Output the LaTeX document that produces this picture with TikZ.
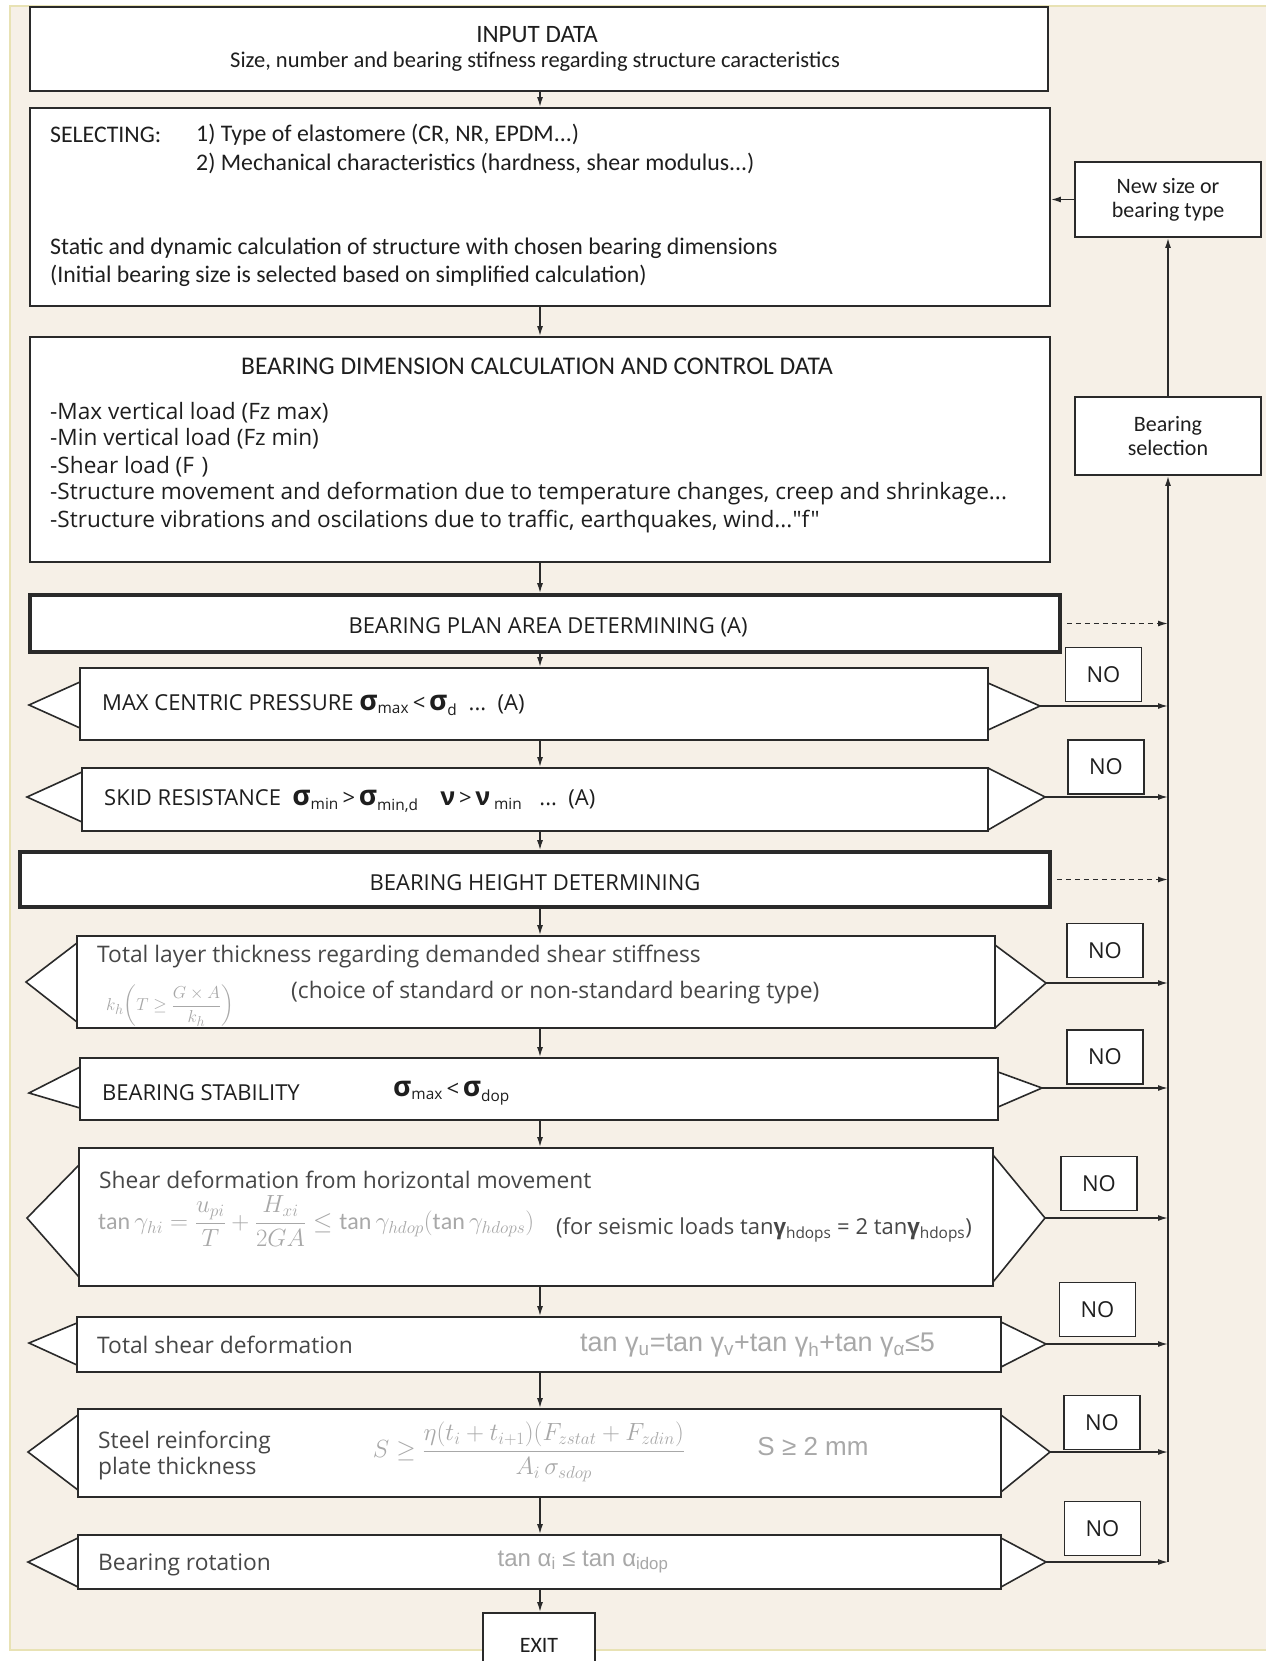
\documentclass[tikz,border=0pt]{standalone}
\usepackage{amsmath}
\usepackage{fontspec}
\setmainfont{Carlito}
\newfontfamily\arialf{Liberation Sans}
\newfontfamily\osans{Open Sans}
\usetikzlibrary{arrows.meta,calc}
\definecolor{bgc}{HTML}{F6F0E7}
\definecolor{framec}{HTML}{E8E2B4}
\definecolor{ink}{HTML}{1E1E1E}
\definecolor{softink}{HTML}{474747}
\definecolor{formc}{HTML}{A8A8A8}
\definecolor{linec}{HTML}{2A2A2A}
\newcommand\bigsig{{\fontsize{28}{28}\selectfont\bfseries σ}}
\newcommand\bignu{{\fontsize{25}{25}\selectfont\bfseries ν}}
\tikzset{
  box/.style={draw=linec, line width=1.8pt, fill=white, inner sep=0pt},
  thickbox/.style={box, line width=3.6pt},
  tri/.style={draw=linec, line width=1.6pt, line join=miter},
  nobox/.style={box, minimum width=76pt, minimum height=54pt, font=\osans\fontsize{22}{24}\selectfont, text=ink},
  sidebox/.style={box, minimum width=186pt, align=center, font=\fontsize{22}{24}\selectfont, text=ink},
  arr/.style={draw=linec, line width=1.5pt, -{Latex[length=10pt,width=6pt]}},
  darr/.style={arr, dash pattern=on 5pt off 4pt},
  txt/.style={inner sep=0pt, text=ink, font=\fontsize{23.8}{28}\selectfont},
  ltxt/.style={txt, anchor=west},
  otxt/.style={inner sep=0pt, text=ink, font=\osans\fontsize{22}{26}\selectfont},
  lotxt/.style={otxt, anchor=west},
  stxt/.style={lotxt, text=softink, font=\osans\fontsize{22.8}{26}\selectfont},
  ftxt/.style={inner sep=0pt, text=formc, font=\fontsize{24}{28}\selectfont},
  atxt/.style={inner sep=0pt, text=formc, anchor=west, font=\arialf\fontsize{24}{28}\selectfont},
}
\begin{document}
\begin{tikzpicture}[x=1pt,y=-1pt]
\useasboundingbox (0,0) rectangle (1266,1661);
% background
\fill[white] (0,0) rectangle (1266,1661);
\fill[bgc] (10,6) rectangle (1266,1650);
\draw[framec, line width=2pt] (1266,6) -- (10,6) -- (10,1650) -- (1266,1650);

% axis coordinates
\coordinate (axis) at (540,0);
\coordinate (vx) at (1168,0);

% triangle tips of the decision boxes
\coordinate (d1l) at (29,705);   \coordinate (d1r) at (1040,706);
\coordinate (d2l) at (27,797);   \coordinate (d2r) at (1045,797);
\coordinate (d3l) at (26,982);   \coordinate (d3r) at (1046,983);
\coordinate (d4l) at (29,1093);  \coordinate (d4r) at (1042,1088);
\coordinate (d5l) at (27,1218);  \coordinate (d5r) at (1045,1218);
\coordinate (d6l) at (29,1343);  \coordinate (d6r) at (1046,1344);
\coordinate (d7l) at (28,1452);  \coordinate (d7r) at (1050,1452);
\coordinate (d8l) at (28,1562);  \coordinate (d8r) at (1046,1562);

\foreach \xa/\ya/\yb/\tp in {80/682/728/d1l, 988/683/730/d1r,
   82/772/822/d2l, 988/768/830/d2r,
   77/943/1022/d3l, 995/945/1028/d3r,
   80/1067/1108/d4l, 998/1072/1107/d4r,
   79/1165/1277/d5l, 993/1155/1282/d5r,
   77/1323/1365/d6l, 1001/1322/1367/d6r,
   78/1415/1490/d7l, 1001/1415/1492/d7r,
   78/1538/1587/d8l, 1001/1538/1587/d8r}{
  \fill[white] (\xa,\ya) -- (\tp) -- (\xa,\yb) -- cycle;
  \draw[tri] (\xa,\ya) -- (\tp) -- (\xa,\yb);
}

% main boxes
\node[box, minimum width=1018pt, minimum height=84pt]  (b1) at (539,49) {};
\node[box, minimum width=1020pt, minimum height=198pt] (b2) at (540,207) {};
\node[box, minimum width=1020pt, minimum height=225pt] (b3) at (540,449.5) {};
\node[thickbox, minimum width=1030pt, minimum height=57pt] (b4) at (545,623.5) {};
\node[box, minimum width=908pt, minimum height=72pt]  (d1) at (534,704) {};
\node[box, minimum width=906pt, minimum height=63pt]  (d2) at (535,799.5) {};
\node[thickbox, minimum width=1030pt, minimum height=55pt] (b5) at (535,879.5) {};
\node[box, minimum width=918pt, minimum height=92pt]  (d3) at (536,982) {};
\node[box, minimum width=918pt, minimum height=62pt]  (d4) at (539,1089) {};
\node[box, minimum width=914pt, minimum height=138pt] (d5) at (536,1217) {};
\node[box, minimum width=924pt, minimum height=55pt]  (d6) at (539,1344.5) {};
\node[box, minimum width=923pt, minimum height=88pt]  (d7) at (539.5,1453) {};
\node[box, minimum width=923pt, minimum height=54pt]  (d8) at (539.5,1562) {};
\node[box, minimum width=112pt, minimum height=54pt]  (ex) at (539,1640) {};

% side boxes
\node[sidebox, minimum height=75pt] (news) at (1168,199.5) {New size or\\bearing type};
\node[sidebox, minimum height=78pt] (bsel) at (1168,436) {Bearing\\selection};

% NO boxes
\node[nobox] (no1) at (1103.5,674.5) {NO};
\node[nobox] (no2) at (1106,767) {NO};
\node[nobox] (no3) at (1105,950.5) {NO};
\node[nobox] (no4) at (1105,1057) {NO};
\node[nobox] (no5) at (1099,1183.5) {NO};
\node[nobox] (no6) at (1097.5,1309.5) {NO};
\node[nobox] (no7) at (1102,1422.5) {NO};
\node[nobox] (no8) at (1102.5,1528.5) {NO};

% texts
\node[txt, font=\fontsize{25}{28}\selectfont] (t1a) at (537,35) {INPUT DATA};
\node[txt, font=\fontsize{22.5}{26}\selectfont] (t1b) at (535,62) {Size, number and bearing stifness regarding structure caracteristics};

\node[ltxt] (t2a) at (50,135) {SELECTING:};
\node[ltxt] (t2b) at (196,135) {1) Type of elastomere (CR, NR, EPDM...)};
\node[ltxt] (t2c) at (196,163) {2) Mechanical characteristics (hardness, shear modulus...)};
\node[ltxt] (t2d) at (50,248) {Static and dynamic calculation of structure with chosen bearing dimensions};
\node[ltxt] (t2e) at (50,276) {(Initial bearing size is selected based on simplified calculation)};

\node[txt, font=\fontsize{25.5}{28}\selectfont] (t3) at (537,366) {BEARING DIMENSION CALCULATION AND CONTROL DATA};
\node[lotxt, font=\osans\fontsize{22.6}{26}\selectfont] (t3a) at (50,413) {-Max vertical load (Fz max)};
\node[lotxt, font=\osans\fontsize{22.6}{26}\selectfont] (t3b) at (50,439) {-Min vertical load (Fz min)};
\node[lotxt, font=\osans\fontsize{22.6}{26}\selectfont] (t3c) at (50,467) {-Shear load (F\,\,)};
\node[lotxt, font=\osans\fontsize{22.6}{26}\selectfont] (t3d) at (50,494) {-Structure movement and deformation due to temperature changes, creep and shrinkage...};
\node[lotxt, font=\osans\fontsize{22.6}{26}\selectfont] (t3e) at (50,522) {-Structure vibrations and oscilations due to traffic, earthquakes, wind..."f"};

\node[otxt] (t4) at (548,627) {BEARING PLAN AREA DETERMINING (A)};
\node[lotxt] (t5) at (102,705) {MAX CENTRIC PRESSURE \bigsig\textsubscript{max}\,<\,\bigsig\textsubscript{d}\ \ ...\ \ (A)};
\node[lotxt] (t6) at (104,801) {SKID RESISTANCE\ \ \bigsig\textsubscript{min}\,>\,\bigsig\textsubscript{min,d}\quad\bignu\,>\,\bignu\textsubscript{\ min}\ \ \ ...\ \ (A)};
\node[otxt] (t7) at (535,883) {BEARING HEIGHT DETERMINING};

\node[stxt] (t8a) at (97,957) {Total layer thickness regarding demanded shear stiffness};
\node[ftxt, anchor=west, font=\fontsize{19}{22}\selectfont] (t8f) at (106,1006) {$\displaystyle k_h\!\left(T\ge\frac{G\times A}{k_h}\right)$};
\node[stxt] (t8b) at (291,993) {(choice of standard or non-standard bearing type)};

\node[lotxt] (t9a) at (102,1093) {BEARING STABILITY};
\node[lotxt] (t9b) at (393,1093) {\bigsig\textsubscript{max}\,<\,\bigsig\textsubscript{dop}};

\node[stxt] (t10a) at (99,1180) {Shear deformation from horizontal movement};
\node[ftxt, anchor=west] (t10f) at (98,1221) {$\displaystyle \tan\gamma_{hi} = \frac{u_{pi}}{T} + \frac{H_{xi}}{2GA} \le \tan\gamma_{hdop}(\tan\gamma_{hdops})$};
\node[stxt, font=\osans\fontsize{22}{26}\selectfont] (t10b) at (556,1230) {(for seismic loads tan\textbf{γ}\textsubscript{hdops} = 2 tan\textbf{γ}\textsubscript{hdops})};

\node[stxt] (t11a) at (97,1345) {Total shear deformation};
\node[atxt, font=\arialf\fontsize{27}{30}\selectfont] (t11f) at (580,1345) {tan γ\textsubscript{u}=tan γ\textsubscript{v}+tan γ\textsubscript{h}+tan γ\textsubscript{α}≤5};

\node[stxt] (t12a) at (98,1442) {Steel reinforcing};
\node[stxt] (t12b) at (98,1469) {plate thickness};
\node[ftxt] (t12f) at (529,1452) {$\displaystyle S \ge \frac{\eta(t_i+t_{i+1})(F_{zstat}+F_{zdin})}{A_i\,\sigma_{sdop}}$};
\node[atxt, anchor=center, font=\arialf\fontsize{26}{30}\selectfont] (t12g) at (813,1447) {S ≥ 2 mm};

\node[stxt] (t13a) at (98,1565) {Bearing rotation};
\node[atxt, anchor=center] (t13f) at (583,1562) {tan α\textsubscript{i} ≤ tan α\textsubscript{idop}};

\node[txt, font=\fontsize{22}{26}\selectfont] (t14) at (539,1645) {EXIT};

% main flow arrows
\draw[arr] (b1.south -| axis) -- (b2.north -| axis);
\draw[arr] (b2.south -| axis) -- (b3.north -| axis);
\draw[arr] (b3.south -| axis) -- (b4.north -| axis);
\draw[arr] (b4.south -| axis) -- (d1.north -| axis);
\draw[arr] (d1.south -| axis) -- (d2.north -| axis);
\draw[arr] (d2.south -| axis) -- (b5.north -| axis);
\draw[arr] (b5.south -| axis) -- (d3.north -| axis);
\draw[arr] (d3.south -| axis) -- (d4.north -| axis);
\draw[arr] (d4.south -| axis) -- (d5.north -| axis);
\draw[arr] (d5.south -| axis) -- (d6.north -| axis);
\draw[arr] (d6.south -| axis) -- (d7.north -| axis);
\draw[arr] (d7.south -| axis) -- (d8.north -| axis);
\draw[arr] (d8.south -| axis) -- (ex.north -| axis);

% NO arrows to the return line
\foreach \d in {d1r,d2r,d3r,d4r,d5r,d6r,d7r}{
  \draw[arr] (\d) -- (\d -| vx);
}
\coordinate (vbot) at (d8r -| vx);
\draw[arr] (d8r) -- (vbot);
\draw[arr] (vbot) -- (bsel.south);
\draw[arr] (bsel.north) -- (news.south);
\draw[arr] (news.west) -- (news.west -| b2.east);

% dashed arrows
\draw[darr] ($(b4.east)+(5,0)$) -- (b4.east -| vx);
\draw[darr] ($(b5.east)+(5,0)$) -- (b5.east -| vx);
\end{tikzpicture}
\end{document}
